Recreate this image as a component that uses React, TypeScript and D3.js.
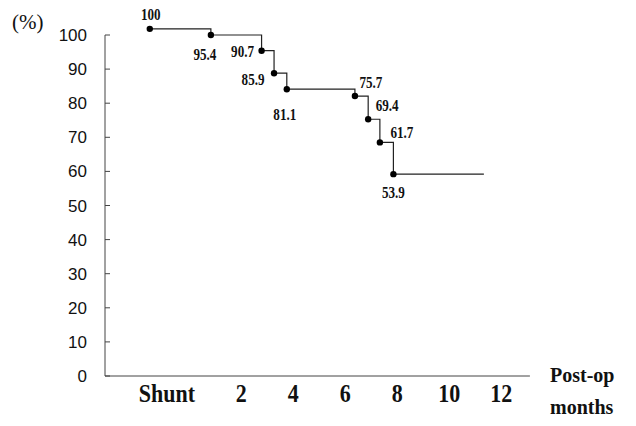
import React from "react";
import * as d3 from "d3";

// Kaplan–Meier style step data (months after operation, plotted survival %)
const months = [-1.52, 0.83, 2.78, 3.26, 3.75, 6.37, 6.88, 7.33, 7.85];
const plotted = [101.8, 100.0, 95.4, 88.8, 84.1, 82.1, 75.3, 68.5, 59.2];
const valueLabels = ["100", "95.4", "90.7", "85.9", "81.1", "75.7", "69.4", "61.7", "53.9"];
const lastMonth = 11.33;

const yTicks = [0, 10, 20, 30, 40, 50, 60, 70, 80, 90, 100];
const xTickValues = [-0.86, 2, 4, 6, 8, 10, 12];
const xTickLabels = ["Shunt", "2", "4", "6", "8", "10", "12"];

// label placement offsets relative to each point (pixels)
const labelOffsets: [number, number][] = [
  [1, -9], [-6, 25], [-19, 6], [-21, 12], [-2, 31], [16, -8], [19, -8], [22, -4], [0, 24],
];

const W = 636;
const H = 426;

export default function App() {
  const x = d3.scaleLinear().domain([0, 12]).range([189.3, 501.3]);
  const y = d3.scaleLinear().domain([0, 100]).range([376, 35]);

  const pts: [number, number][] = months.map((m, i) => [m, plotted[i]]);
  const linePts: [number, number][] = [...pts, [lastMonth, plotted[plotted.length - 1]]];
  const line = d3
    .line<[number, number]>()
    .x((d) => x(d[0]))
    .y((d) => y(d[1]))
    .curve(d3.curveStepAfter);

  const axisLeftX = 105;
  const axisRightX = x(13.1);
  const serif = "'Liberation Serif', 'Times New Roman', serif";
  const sans = "'Liberation Sans', Arial, sans-serif";

  return (
    <svg
      width={W}
      height={H}
      viewBox={`0 0 ${W} ${H}`}
      style={{ position: "absolute", left: 0, top: 0, background: "#fff" }}
    >
      {/* y axis */}
      <line x1={axisLeftX} x2={axisLeftX} y1={y(100)} y2={y(0)} stroke="#444" strokeWidth={1} />
      {yTicks.map((t) => (
        <g key={t}>
          <line x1={axisLeftX} x2={axisLeftX + 5} y1={y(t)} y2={y(t)} stroke="#444" strokeWidth={1} />
          <text x={87} y={y(t) + 6} textAnchor="end" fontFamily={sans} fontSize={17} fill="#111">
            {t}
          </text>
        </g>
      ))}
      <text x={12} y={29} fontFamily={serif} fontSize={21} fill="#111">
        (%)
      </text>

      {/* x axis */}
      <line x1={axisLeftX} x2={axisRightX} y1={y(0)} y2={y(0)} stroke="#444" strokeWidth={1} />
      {xTickValues.map((v, i) => (
        <text
          key={i}
          transform={`translate(${x(v)},402) scale(1,1.1)`}
          textAnchor="middle"
          fontFamily={serif}
          fontWeight="bold"
          fontSize={22}
          fill="#111"
        >
          {xTickLabels[i]}
        </text>
      ))}
      <text x={550} y={382} fontFamily={serif} fontWeight="bold" fontSize={20} fill="#111">
        Post-op
      </text>
      <text x={550} y={414} fontFamily={serif} fontWeight="bold" fontSize={20} fill="#111">
        months
      </text>

      {/* survival step line */}
      <path d={line(linePts) || ""} fill="none" stroke="#222" strokeWidth={1.2} />
      {pts.map((p, i) => (
        <circle key={i} cx={x(p[0])} cy={y(p[1])} r={3.2} fill="#000" />
      ))}
      {pts.map((p, i) => (
        <text
          key={"l" + i}
          transform={`translate(${x(p[0]) + labelOffsets[i][0]},${y(p[1]) + labelOffsets[i][1]}) scale(0.82,1.05)`}
          textAnchor="middle"
          fontFamily={serif}
          fontWeight="bold"
          fontSize={16}
          fill="#111"
        >
          {valueLabels[i]}
        </text>
      ))}
    </svg>
  );
}
